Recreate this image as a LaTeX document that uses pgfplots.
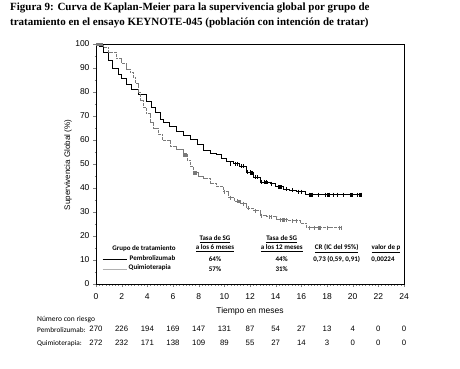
\documentclass[border=0pt]{standalone}
\usepackage{fontspec}
\setmainfont{Liberation Sans}
\newfontfamily\calfont{Carlito}
\newfontfamily\tmsfont{Liberation Serif}
\usepackage{pgfplots}
\pgfplotsset{compat=1.18}
\definecolor{chemo}{HTML}{7A7A7A}
\definecolor{legray}{HTML}{B0B0B0}
\begin{document}
\begin{tikzpicture}[x=1pt,y=1pt]
\path[use as bounding box] (0,0) rectangle (460,-368);
\node[anchor=base west, inner sep=0, font=\tmsfont\bfseries\fontsize{11}{12}\selectfont] at (10,-10) {Figura 9: Curva de Kaplan-Meier para la supervivencia global por grupo de};
\node[anchor=base west, inner sep=0, font=\tmsfont\bfseries\fontsize{11}{12}\selectfont] at (10,-25) {tratamiento en el ensayo KEYNOTE-045 (población con intención de tratar)};
\begin{axis}[
  at={(96pt,-284pt)}, anchor=south west, scale only axis,
  width=308pt, height=240pt,
  xmin=0, xmax=24, ymin=0, ymax=100,
  xtick={0,2,...,24}, ytick={0,10,...,100},
  minor x tick num=7, minor y tick num=1,
  tick align=outside, xtick pos=bottom, ytick pos=left,
  major tick length=3pt, minor tick length=1.5pt,
  tick label style={font=\fontsize{8.5}{9}\selectfont},
  xticklabel style={yshift=-3pt},
  /pgf/number format/assume math mode=true,
  axis line style={line width=0.8pt},
  clip=false,
]
% Pembrolizumab
\addplot[const plot, black, line width=1pt] coordinates {
(0,100) (0.3,99) (0.6,96.5) (0.96,93) (1.3,90) (1.74,87.3) (2.0,85.5) (2.39,83.2)
(2.8,81) (3.3,79) (3.95,76.2) (4.3,73.5) (4.6,71.3) (5.0,68.5) (5.25,67.2)
(5.7,65.5) (6.29,63.6) (6.8,62) (7.33,60.2) (7.9,58) (8.36,55.5) (8.9,54.5)
(9.4,53.9) (9.8,52.5) (10.19,51.1) (10.7,50.2) (11.22,49) (11.7,46.5)
(12.26,44.5) (12.78,42.5) (13.56,41.8) (14.0,40.5) (14.6,39.5) (15.1,39)
(15.64,38.5) (16.3,37.2) (20.7,37.2)};
\addplot[only marks, black, mark=|, mark size=2pt, line width=0.8pt] coordinates {
(10.5,50.2) (10.9,50.2) (11.0,50.2) (11.3,49) (11.5,49) (11.8,46.5) (12.0,46.5)
(12.4,44.5) (12.6,44.5) (12.9,42.5) (13.1,42.5) (13.3,42.5) (13.7,41.8) (14.2,40.5)
(14.4,40.5) (14.8,39.5) (15.3,39) (15.8,38.5) (16.0,38.5)
(16.6,37.2) (16.9,37.2) (17.3,37.2) (17.9,37.2) (18.2,37.2) (18.5,37.2) (18.8,37.2)
(19.3,37.2) (20.4,37.2) (20.7,37.2)};
\addplot[only marks, black, mark=square*, mark size=1.3pt] coordinates {
(12.1,46.5) (13.2,42.5) (14.3,40.5) (16.7,37.2) (18.1,37.2) (19.9,37.2) (20.6,37.2)};
% Quimioterapia
\addplot[const plot, chemo, line width=1pt, dash pattern=on 3pt off 0.8pt] coordinates {
(0,100) (0.3,99.5) (0.6,98.5) (1.0,96.5) (1.61,93.8) (2.0,92) (2.4,89.5)
(2.65,88) (2.91,86) (3.1,83.5) (3.3,80) (3.5,76.5) (3.69,73.5) (3.9,71)
(4.21,67.5) (4.5,65) (4.86,62.5) (5.2,60) (5.77,57.5) (6.3,56) (6.8,54)
(7.1,51.5) (7.4,49) (7.6,46.5) (8.0,45) (8.4,44) (8.9,42) (9.4,40.7)
(9.9,38.5) (10.3,36) (10.8,34.5) (11.22,33.5) (11.74,31.6) (12.26,30.5)
(12.78,28.5) (13.3,28) (14.08,26.7) (15.0,26.3) (15.9,25.4) (16.4,23.5) (19.15,23.5)};
\addplot[only marks, chemo, mark=|, mark size=2pt, line width=0.8pt] coordinates {
(10.0,38.5) (10.5,36) (11.0,34.5) (11.5,33.5) (11.9,31.6) (12.4,30.5) (12.9,28.5)
(13.5,28) (13.7,28) (14.4,26.7) (14.8,26.7) (15.3,26.3) (15.6,26.3)
(16.6,23.5) (17.0,23.5) (17.5,23.5) (18.0,23.5) (19.0,23.5) (19.15,23.5)};
\addplot[only marks, chemo, mark=square*, mark size=1.3pt] coordinates {
(0.15,100) (0.35,100) (6.9,54) (7.7,46.5) (11.1,34.5) (14.6,26.7) (17.4,23.5)};
\end{axis}
% axis labels
\node[rotate=90, font=\fontsize{8}{9}\selectfont] at (68,-165) {Supervivencia Global (\%)};
\node[font=\fontsize{8.5}{9}\selectfont] at (250,-311) {Tiempo en meses};
% in-plot table
\begin{scope}[font=\calfont\bfseries\fontsize{7}{8}\selectfont]
\node at (215,-239.3) {\underline{Tasa de SG}};
\node at (215,-248.3) {\underline{a los 6 meses}};
\node at (281.7,-239.3) {\underline{Tasa de SG}};
\node at (281.7,-248.3) {\underline{a los 12 meses}};
\node at (144,-248.3) {Grupo de tratamiento};
\node at (336.7,-248.3) {\underline{CR (IC del 95\%)}};
\node at (386,-248.3) {\underline{valor de p}};
\draw[line width=1.2pt, black] (102.7,-259.5) -- (127.3,-259.5);
\node[anchor=west, inner sep=1pt] at (128.5,-258) {Pembrolizumab};
\node at (215,-259.5) {64\%};
\node at (281.7,-259.5) {44\%};
\node at (336.7,-259.5) {0,73 (0,59, 0,91)};
\node at (383,-259.5) {0,00224};
\draw[line width=1pt, legray] (102.7,-269.5) -- (127.3,-269.5);
\node[anchor=west, inner sep=1pt] at (127.5,-267.5) {Quimioterapia};
\node at (215,-269) {57\%};
\node at (281.7,-269) {31\%};
\end{scope}
% risk table
\node[anchor=west, inner sep=0, font=\calfont\fontsize{7.5}{8}\selectfont] at (37,-320) {Número con riesgo};
\node[anchor=west, inner sep=0, font=\calfont\fontsize{7.3}{8}\selectfont] at (37,-329.5) {Pembrolizumab:};
\node[anchor=west, inner sep=0, font=\calfont\fontsize{7.3}{8}\selectfont] at (37,-343.5) {Quimioterapia:};
\foreach \v [count=\i from 0] in {270,226,194,169,147,131,87,54,27,13,4,0,0}
  \node[font=\fontsize{7.8}{8}\selectfont] at ({96+\i*25.667},-328.5) {\v};
\foreach \v [count=\i from 0] in {272,232,171,138,109,89,55,27,14,3,0,0,0}
  \node[font=\fontsize{7.8}{8}\selectfont] at ({96+\i*25.667},-342.5) {\v};
\end{tikzpicture}
\end{document}
